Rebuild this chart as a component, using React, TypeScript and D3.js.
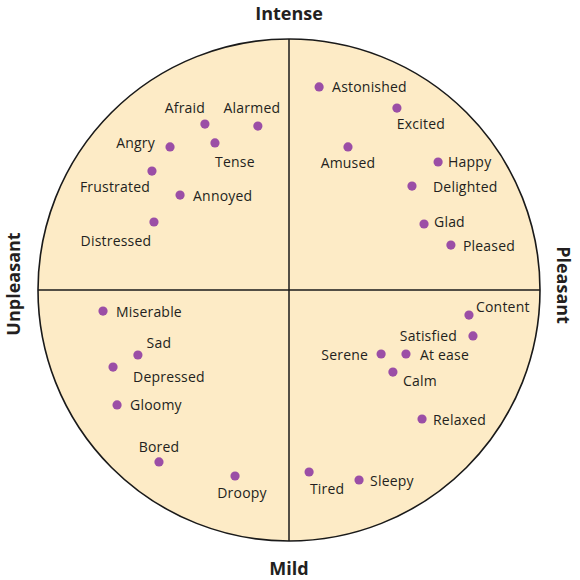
import React from "react";
import * as d3 from "d3";

// circumplex of affect: valence (unpleasant -> pleasant), arousal (mild -> intense)
const emotions = [
  "Afraid", "Alarmed", "Angry", "Tense", "Frustrated", "Annoyed", "Distressed",
  "Astonished", "Excited", "Amused", "Happy", "Delighted", "Glad", "Pleased",
  "Miserable", "Sad", "Depressed", "Gloomy", "Bored", "Droopy",
  "Content", "Satisfied", "Serene", "At ease", "Calm", "Relaxed", "Tired", "Sleepy",
];
const valence = [
  -0.335, -0.124, -0.474, -0.295, -0.546, -0.434, -0.538,
  0.12, 0.43, 0.235, 0.594, 0.49, 0.538, 0.645,
  -0.741, -0.602, -0.701, -0.685, -0.518, -0.215,
  0.717, 0.733, 0.367, 0.466, 0.414, 0.53, 0.08, 0.279,
];
const arousal = [
  0.661, 0.653, 0.57, 0.586, 0.474, 0.378, 0.271,
  0.809, 0.725, 0.57, 0.51, 0.414, 0.263, 0.179,
  -0.084, -0.259, -0.307, -0.458, -0.685, -0.741,
  -0.1, -0.183, -0.255, -0.255, -0.327, -0.514, -0.725, -0.757,
];
const axisTitles = ["Intense", "Mild", "Unpleasant", "Pleasant"];

const width = 580;
const height = 580;
const cx = 289;
const cy = 290;
const R = 251;

// label placement next to each dot: [anchor, dx, dy]
const labelPos: Record<string, [string, number, number]> = {
  Afraid: ["middle", -20, -17],
  Alarmed: ["middle", -6, -19],
  Angry: ["end", -15, -4],
  Tense: ["middle", 20, 19],
  Frustrated: ["middle", -37, 15],
  Annoyed: ["start", 13, 0],
  Distressed: ["middle", -38, 19],
  Astonished: ["start", 13, 0],
  Excited: ["middle", 24, 15],
  Amused: ["middle", 0, 16],
  Happy: ["start", 10, 0],
  Delighted: ["start", 21, 0],
  Glad: ["start", 10, -2],
  Pleased: ["start", 12, 0],
  Miserable: ["start", 13, 0],
  Sad: ["middle", 21, -13],
  Depressed: ["start", 20, 9],
  Gloomy: ["start", 13, 0],
  Bored: ["middle", 0, -15],
  Droopy: ["middle", 7, 17],
  Content: ["start", 7, -9],
  Satisfied: ["end", -16, 0],
  Serene: ["end", -13, 0],
  "At ease": ["start", 14, 0],
  Calm: ["start", 10, 8],
  Relaxed: ["start", 11, 0],
  Tired: ["middle", 18, 17],
  Sleepy: ["start", 11, 0],
};

const font = "'Open Sans', 'DejaVu Sans', sans-serif";

const App = () => {
  const x = d3.scaleLinear().domain([-1, 1]).range([cx - R, cx + R]);
  const y = d3.scaleLinear().domain([-1, 1]).range([cy + R, cy - R]);

  return (
    <svg
      width={width}
      height={height}
      viewBox={`0 0 ${width} ${height}`}
      style={{ position: "absolute", left: 0, top: 0, background: "#fff" }}
    >
      <circle cx={x(0)} cy={y(0)} r={R} fill="#fdebc6" stroke="#1a1a1a" strokeWidth={1.6} />
      <line x1={x(0)} x2={x(0)} y1={y(1)} y2={y(-1)} stroke="#1a1a1a" strokeWidth={1.5} />
      <line x1={x(-1)} x2={x(1)} y1={y(0)} y2={y(0)} stroke="#1a1a1a" strokeWidth={1.5} />

      {emotions.map((name, i) => {
        const [anchor, dx, dy] = labelPos[name];
        const px = x(valence[i]);
        const py = y(arousal[i]);
        return (
          <g key={name}>
            <circle cx={px} cy={py} r={4.6} fill="#9b4ea6" />
            <text
              x={px + dx}
              y={py + dy}
              textAnchor={anchor}
              dominantBaseline="central"
              fontFamily={font}
              fontSize={14}
              letterSpacing={0.2}
              fill="#231f20"
            >
              {name}
            </text>
          </g>
        );
      })}

      <g fontFamily={font} fontWeight={700} fontSize={18} fill="#231f20" textAnchor="middle">
        <text x={x(0)} y={20}>{axisTitles[0]}</text>
        <text x={x(0)} y={575}>{axisTitles[1]}</text>
        <text transform={`translate(20,${cy - 6}) rotate(-90)`}>{axisTitles[2]}</text>
        <text transform={`translate(557,${cy - 5}) rotate(90)`}>{axisTitles[3]}</text>
      </g>
    </svg>
  );
};

export default App;
